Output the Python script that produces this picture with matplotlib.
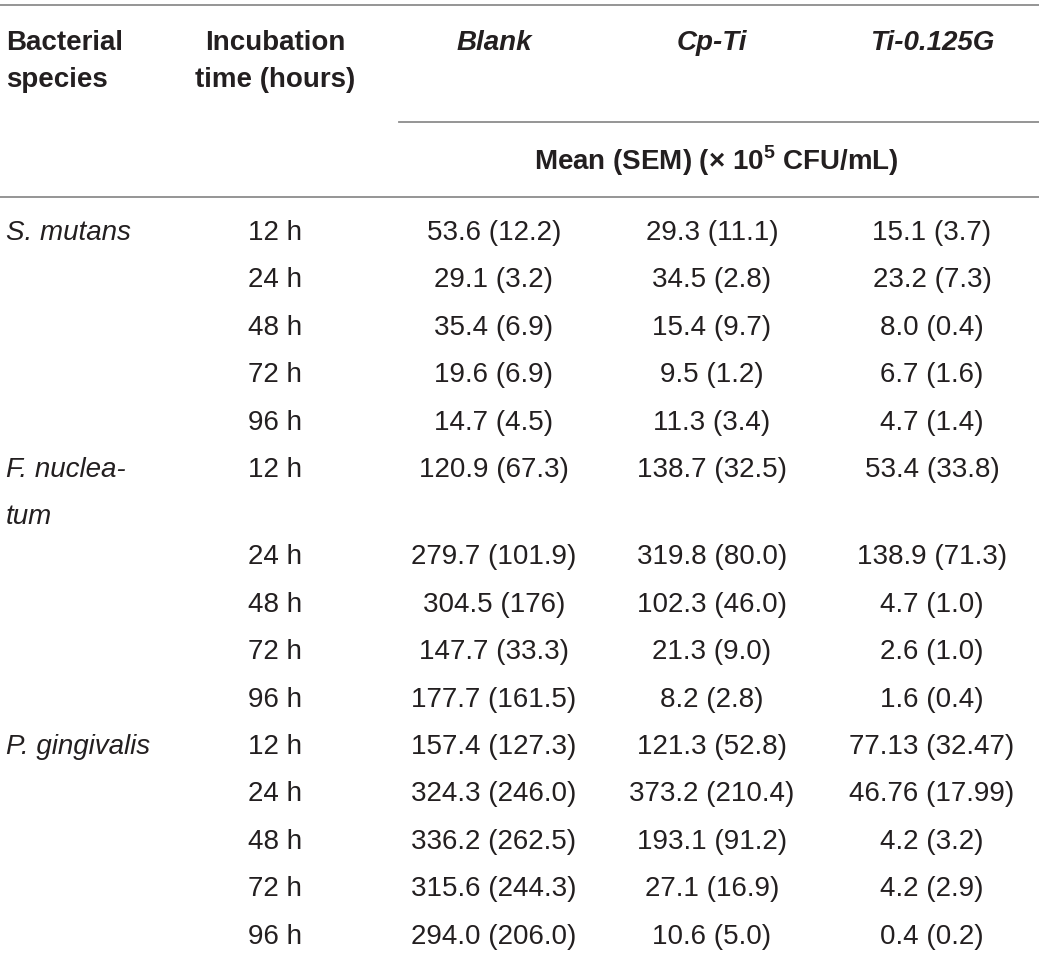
import matplotlib
matplotlib.use("Agg")
import matplotlib.pyplot as plt

species = ["S. mutans", "F. nuclea-\ntum", "P. gingivalis"]
times = ["12 h", "24 h", "48 h", "72 h", "96 h"]

blank = ["53.6 (12.2)", "29.1 (3.2)", "35.4 (6.9)", "19.6 (6.9)", "14.7 (4.5)",
         "120.9 (67.3)", "279.7 (101.9)", "304.5 (176)", "147.7 (33.3)", "177.7 (161.5)",
         "157.4 (127.3)", "324.3 (246.0)", "336.2 (262.5)", "315.6 (244.3)", "294.0 (206.0)"]
cpti = ["29.3 (11.1)", "34.5 (2.8)", "15.4 (9.7)", "9.5 (1.2)", "11.3 (3.4)",
        "138.7 (32.5)", "319.8 (80.0)", "102.3 (46.0)", "21.3 (9.0)", "8.2 (2.8)",
        "121.3 (52.8)", "373.2 (210.4)", "193.1 (91.2)", "27.1 (16.9)", "10.6 (5.0)"]
ti0125g = ["15.1 (3.7)", "23.2 (7.3)", "8.0 (0.4)", "6.7 (1.6)", "4.7 (1.4)",
           "53.4 (33.8)", "138.9 (71.3)", "4.7 (1.0)", "2.6 (1.0)", "1.6 (0.4)",
           "77.13 (32.47)", "46.76 (17.99)", "4.2 (3.2)", "4.2 (2.9)", "0.4 (0.2)"]

groups = ["Blank", "Cp-Ti", "Ti-0.125G"]

plt.rcParams['font.family'] = ['Liberation Sans', 'DejaVu Sans']
plt.rcParams['mathtext.fontset'] = 'custom'
plt.rcParams['mathtext.rm'] = 'Liberation Sans'
plt.rcParams['mathtext.bf'] = 'Liberation Sans:bold'
txt = "#231f20"
line_c = "#8c8c8c"
fs = 20

fig = plt.figure(figsize=(10.39, 9.56), dpi=100)
ax = fig.add_axes([0, 0, 1, 1])
ax.set_xlim(0, 1039)
ax.set_ylim(956, 0)
ax.axis("off")

col_x = [275, 494, 712, 932]

# rules
ax.plot([0, 1039], [5, 5], color=line_c, lw=1.3)
ax.plot([399, 1039], [122, 122], color=line_c, lw=1.3)
ax.plot([0, 1039], [197, 197], color=line_c, lw=1.3)

# header
ax.text(6, 43, "Bacterial", fontsize=fs, fontweight="bold", color=txt, ha="left", va="center")
ax.text(6, 80, "species", fontsize=fs, fontweight="bold", color=txt, ha="left", va="center")
ax.text(col_x[0], 43, "Incubation", fontsize=fs, fontweight="bold", color=txt,
        ha="center", va="center")
ax.text(col_x[0], 80, "time (hours)", fontsize=fs, fontweight="bold", color=txt,
        ha="center", va="center")
for x, g in zip(col_x[1:], groups):
    ax.text(x, 43, g, fontsize=fs, fontweight="bold", style="italic", color=txt,
            ha="center", va="center")
ax.text(716, 161, r"Mean (SEM) (× 10$^{\mathbf{5}}$ CFU/mL)", fontsize=fs,
        fontweight="bold", color=txt, ha="center", va="center")

# body rows
row_y = []
y = 233
for i in range(len(blank)):
    row_y.append(y)
    y += 47.4
    if i == 5:
        y += 40

for k, sp in enumerate(species):
    lines = sp.split("\n")
    for j, part in enumerate(lines):
        ax.text(6, row_y[k * 5] + 47 * j, part, fontsize=fs, style="italic", color=txt,
                ha="left", va="center")

for i, yy in enumerate(row_y):
    ax.text(col_x[0], yy, times[i % 5], fontsize=fs, color=txt, ha="center", va="center")
    for x, vals in zip(col_x[1:], [blank, cpti, ti0125g]):
        ax.text(x, yy, vals[i], fontsize=fs, color=txt, ha="center", va="center")

fig.savefig("out.png", dpi=100, facecolor="white")
